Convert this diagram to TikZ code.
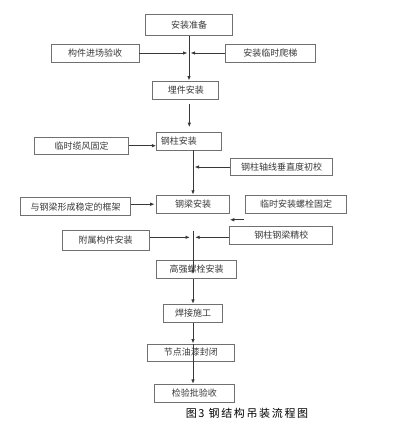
\documentclass[tikz,border=0pt]{standalone}
\usepackage{fontspec}
\setmainfont{Noto Sans CJK SC}
\usetikzlibrary{arrows.meta,positioning,calc}
\definecolor{framegray}{HTML}{707070}
\definecolor{inkgray}{HTML}{383838}

\begin{document}
\begin{tikzpicture}[x=1bp, y=-1bp, font=\fontsize{9bp}{11bp}\selectfont, text=inkgray,
  box/.style={draw=framegray, line width=0.9bp, minimum width=#1, minimum height=18bp, inner sep=0pt},
  arr/.style={-{Latex[length=4.5bp, width=3.5bp]}, draw=inkgray, line width=0.9bp}]
\useasboundingbox (0,0) rectangle (401,425);
\node[box=87bp, minimum height=21bp] (prep) at (189,25.3) {安装准备};
\node[box=88bp] (check) at (95,53) {构件进场验收};
\node[box=90bp] (ladder) at (270.3,53) {安装临时爬梯};
\node[box=66bp] (embed) at (185.8,90) {埋件安装};
\node[box=65bp, minimum height=17.3bp, text width=57bp, inner xsep=4bp, align=left] (col) at (189.3,141.3) {钢柱安装};
\node[box=94bp, minimum height=16.7bp] (guy) at (81.5,145.7) {临时缆风固定};
\node[box=102bp, minimum height=17.3bp] (vert) at (281.7,167) {钢柱轴线垂直度初校};
\node[box=72.6bp] (beam) at (193,204.2) {钢梁安装};
\node[box=110bp] (frame) at (75.7,206.7) {与钢梁形成稳定的框架};
\node[box=101.4bp, minimum height=17.6bp] (bolt) at (296,204.5) {临时安装螺栓固定};
\node[box=86.7bp, minimum height=20.7bp] (attach) at (105.7,240.3) {附属构件安装};
\node[box=102.7bp, minimum height=17.6bp] (fine) at (281.3,235.5) {钢柱钢梁精校};
\node[box=80bp, minimum height=17.6bp] (hsb) at (196.7,269.5) {高强螺栓安装};
\node[box=58.6bp] (weld) at (193,313.3) {焊接施工};
\node[box=87bp, minimum height=17bp] (paint) at (190.8,352.5) {节点油漆封闭};
\node[box=80bp] (accept) at (194.3,393.3) {检验批验收};
\node[text=black, font=\fontsize{11bp}{13bp}\selectfont\addfontfeatures{LetterSpace=15}] (cap) at (247,413.5) {图3\ 钢结构吊装流程图};
\draw[arr] (prep.south) -- (prep.south |- embed.north);
\draw[arr, shorten >=1.5bp] (check.east) -- (prep.south |- check.east); \draw[arr, shorten >=1.5bp] (ladder.west) -- (prep.south |- ladder.west);
\draw[arr, shorten <=4.7bp, shorten >=5bp] (col.north |- embed.south) -- (col.north);
\draw[arr] (guy.east) -- (guy.east -| col.west);
\draw[arr] (beam.north |- col.south) -- (beam.north); \draw[arr, shorten >=1.5bp] (vert.west) -- (beam.north |- vert.west);
\draw[arr, shorten >=1.5bp] ($(frame.east)+(0,-2.5)$) -- ($(frame.east -| beam.west)+(0,-2.5)$);
\draw[arr] ($(bolt.south west)+(-1,6)$) -- ($(bolt.south west -| beam.east)+(0,6)$);
\draw[arr] ($(beam.south)+(0,17)$) -- ($(hsb.south -| beam.south)+(0,-4.5)$);
\draw[arr, shorten >=3bp] ($(attach.east)+(0,-3)$) -- ($(attach.east -| beam.south)+(0,-3)$); \draw[arr, shorten >=2bp] ($(fine.west)+(0,1.8)$) -- ($(fine.west -| beam.south)+(0,1.8)$);
\draw[arr] (weld.north |- hsb.south) -- (weld.north);
\draw[arr] (weld.south) -- (weld.south |- paint.north); \draw[arr] (weld.south |- paint.north) -- (weld.south |- accept.north);
\end{tikzpicture}
\end{document}
